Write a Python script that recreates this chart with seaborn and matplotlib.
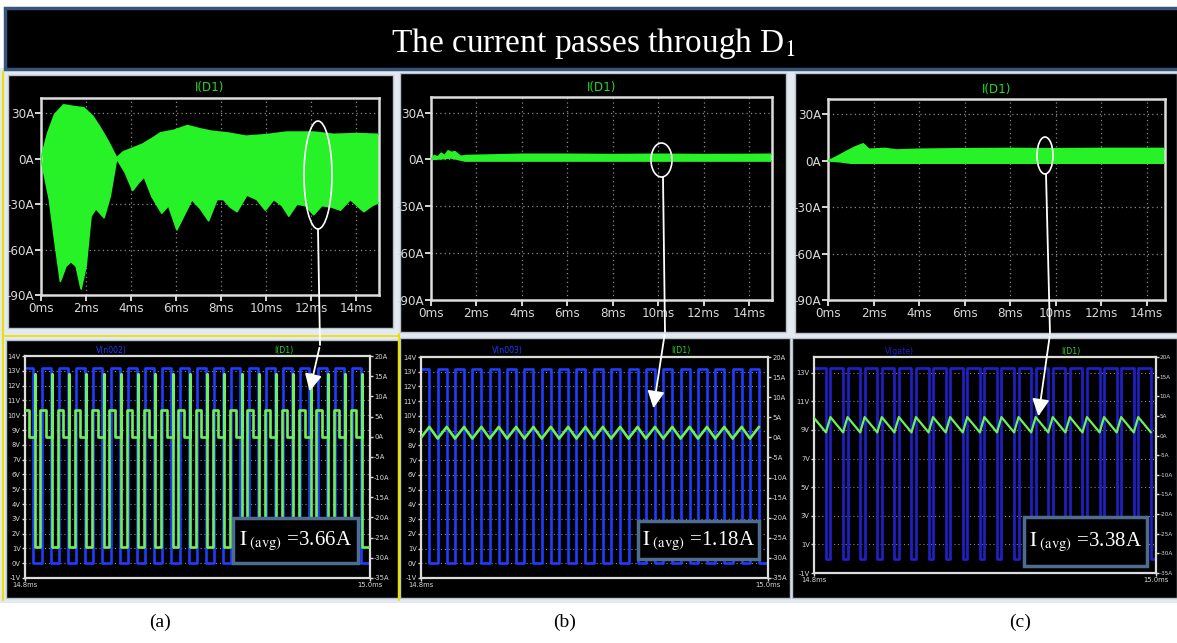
import numpy as np
import pandas as pd
import matplotlib
matplotlib.use("Agg")
import matplotlib.pyplot as plt
import seaborn as sns
from matplotlib.patches import Rectangle, Ellipse, FancyArrowPatch

# ---------------- data ----------------
title_text = "The current passes through D$_1$"
panel_labels = ["(a)", "(b)", "(c)"]
avg_values = ["3.66A", "1.18A", "3.38A"]
volt_names = ["V(n002)", "V(n003)", "V(gate)"]
trace_name = "I(D1)"

top_xticks = [0, 2, 4, 6, 8, 10, 12, 14]
top_xlabels = ["0ms", "2ms", "4ms", "6ms", "8ms", "10ms", "12ms", "14ms"]
top_yticks = [30, 0, -30, -60, -90]
top_ylabels = ["30A", "0A", "-30A", "-60A", "-90A"]

# (a) envelope of I(D1), ms / A
a_up_t = [0.0, 0.3, 0.6, 1.0, 1.4, 1.9, 2.3, 2.65, 3.0, 3.36, 3.65, 4.0, 4.5, 5.0, 5.3, 5.9, 6.5, 7.1,
          7.6, 8.25, 9.1, 10.0, 10.9, 12.1, 13.0, 14.0, 15.0]
a_up_v = [0.0, 17.0, 29.0, 35.5, 34.5, 33.5, 28.0, 20.0, 11.0, 0.5, 4.5, 6.5, 9.5, 14.0, 17.0, 18.7, 21.8,
          19.5, 18.0, 17.0, 14.8, 15.8, 17.5, 17.5, 16.0, 16.5, 16.0]
a_lo_t = [0.0, 0.37, 0.6, 0.86, 1.11, 1.33, 1.56, 1.78, 2.0, 2.22, 2.44, 2.8, 3.07, 3.36, 3.73, 4.07, 4.33,
          4.58, 4.92, 5.36, 5.66, 6.03, 6.4, 6.7, 7.07, 7.44, 7.81, 8.1, 8.4, 8.7, 9.14, 9.58, 9.96, 10.33,
          10.7, 11.0, 11.36, 11.73, 12.1, 12.47, 12.9, 13.29, 13.73, 14.33, 14.7, 15.0]
a_lo_v = [0.0, -27, -53, -81, -71, -68, -71, -86, -71, -38, -33, -39, -25, 0, -9, -21, -16, -12, -25, -36,
          -31, -47, -36, -27, -33, -41, -27, -27, -32, -35, -24, -27, -34, -27, -31, -38, -30, -31, -37,
          -31, -32, -34, -27, -35, -31, -29]
# (b)
b_up_t = [0.0, 0.15, 0.3, 0.45, 0.6, 0.75, 0.9, 1.05, 1.3, 1.6, 2.5, 4.0, 6.0, 8.0, 10.0, 12.0, 14.0, 15.0]
b_up_v = [0.0, 2.5, 1.5, 4.0, 2.5, 5.5, 4.5, 5.0, 2.0, 2.5, 2.8, 3.3, 3.3, 3.1, 3.3, 3.1, 3.2, 3.3]
b_lo_t = [0.0, 0.5, 0.9, 1.2, 1.5, 15.0]
b_lo_v = [0.0, 0.5, 1.0, 0.0, -1.0, -1.0]
# (c)
c_up_t = [0.0, 0.3, 0.8, 1.2, 1.55, 1.8, 2.5, 3.0, 4.0, 6.0, 8.0, 10.0, 12.0, 14.8]
c_up_v = [0.0, 2.0, 6.0, 9.0, 11.0, 7.5, 8.0, 7.0, 7.5, 7.8, 8.0, 7.8, 8.0, 8.0]
c_lo_t = [0.0, 0.5, 1.0, 14.8]
c_lo_v = [0.0, -0.5, -1.5, -1.5]

# bottom panels: 14.8 ms .. 15.0 ms, times in microseconds after 14.8 ms
a_rise_us = [-0.3, 9.7, 19.7, 29.7, 39.7, 49.7, 59.7, 69.7, 79.7, 89.7, 99.7, 109.7, 119.7, 129.7, 139.7,
             149.7, 159.7, 169.7, 179.7, 189.7]
a_fall_us = [4.8, 14.8, 24.8, 34.8, 44.8, 54.8, 64.8, 74.8, 84.8, 94.8, 104.8, 114.8, 124.8, 134.8, 144.8,
             154.8, 164.8, 174.8, 184.8, 194.8]
b_rise_us = [-0.4, 9.6, 19.6, 29.6, 39.6, 49.6, 59.6, 69.6, 79.6, 89.6, 99.6, 109.6, 119.6, 129.6, 139.6,
             149.6, 159.6, 169.6, 179.6, 189.6]
b_fall_us = [4.8, 14.8, 24.8, 34.8, 44.8, 54.8, 64.8, 74.8, 84.8, 94.8, 104.8, 114.8, 124.8, 134.8, 144.8,
             154.8, 164.8, 174.8, 184.8, 194.8]
c_rise_us = [-0.4, 9.6, 19.6, 29.6, 39.6, 49.6, 59.6, 69.6, 79.6, 89.6, 99.6, 109.6, 119.6, 129.6, 139.6,
             149.6, 159.6, 169.6, 179.6, 189.6]
c_fall_us = [7.0, 17.0, 27.0, 37.0, 47.0, 57.0, 67.0, 77.0, 87.0, 97.0, 107.0, 117.0, 127.0, 137.0, 147.0,
             157.0, 167.0, 177.0, 187.0, 197.0]
gate_high_v = [13.2, 13.2, 13.3]
gate_low_v = [0.0, 0.0, 0.0]

# (a) diode current levels (A) and timing (us)
a_spike_hi, a_step_hi, a_step_lo, a_spike_lo = 15.6, 6.5, 0.0, -27.4
a_lag_us, a_step_us = 0.8, 3.2
# (b), (c) triangular ripple (A)
b_peak, b_trough = 2.6, -0.3
c_peak, c_trough = 4.7, 0.8

bot_left_ticks = [list(range(-1, 15)), list(range(-1, 15)), [-1, 1, 3, 5, 7, 9, 11, 13]]
right_ticks = [20, 15, 10, 5, 0, -5, -10, -15, -20, -25, -30, -35]
bot_xlabels = ["14.8ms", "15.0ms"]

# ---------------- helpers ----------------
W, H = 1177, 643
sns.set_theme(style="dark")
plt.rcParams['font.family'] = ['DejaVu Sans']
plt.rcParams['font.stretch'] = 'condensed'
plt.rcParams['mathtext.fontset'] = 'stix'

fig = plt.figure(figsize=(W / 100, H / 100), dpi=100, facecolor='white')


def px_axes(l, t, r, b, **kw):
    return fig.add_axes([l / W, 1 - b / H, (r - l) / W, (b - t) / H], **kw)


def gate_series(rise, fall, hi, lo):
    ev = sorted([(x, hi) for x in rise] + [(x, lo) for x in fall])
    t, v, cur = [-2.0], [lo], lo
    for x, new in ev:
        t += [x, x]
        v += [cur, new]
        cur = new
    t.append(202.0)
    v.append(cur)
    return t, v


def tri_series(peak_t, trough_t, pk, tr):
    ev = sorted([(x, pk) for x in peak_t] + [(x, tr) for x in trough_t])
    return [e[0] for e in ev], [e[1] for e in ev]


def green_a_series(rise, fall):
    ev = []
    for r in rise:
        ev.append((r - a_lag_us, [a_spike_lo, a_step_hi]))
        ev.append((r + a_step_us - a_lag_us, [a_step_hi, a_step_lo]))
    for f in fall:
        ev.append((f + a_lag_us, [a_step_lo, a_spike_hi, a_spike_lo]))
    ev.sort(key=lambda e: e[0])
    t, v = [], []
    for x, vals in ev:
        for val in vals:
            t.append(x)
            v.append(val)
    t.append(202.0)
    v.append(v[-1])
    return t, v


fill_green = "#27f227"
line_green = "#6ef05a"
label_green = "#2ad62a"
blue_cols = ["#1f3cff", "#1f3cff", "#2020c8"]
frame_col = "#dcdcdc"
tick_col = "#d8d8d8"
grid_col = "#8a8a8a"
serif = ['Liberation Serif', 'DejaVu Serif']

# ---------------- background ----------------
bg = fig.add_axes([0, 0, 1, 1], zorder=0)
bg.set_xlim(0, W)
bg.set_ylim(H, 0)
bg.axis('off')
bg.add_patch(Rectangle((0, 68), W, 535, fc='#e4e9ef', ec='none'))
for (x0, y0, x1, y1) in [(8, 75, 393, 328), (400, 73, 786, 332), (795, 73, 1177, 333),
                         (6, 340, 398, 598), (400, 338, 790, 598), (792, 338, 1177, 598)]:
    bg.add_patch(Rectangle((x0, y0), x1 - x0, y1 - y0, fc='black', ec='#b9c3cf', lw=1.0))
bg.add_patch(Rectangle((0, 603), W, 40, fc='white', ec='none'))
bg.plot([3, 3], [72, 600], color='#e8e000', lw=1.5)
bg.plot([398.5, 398.5], [334, 600], color='#e8e000', lw=1.5)
bg.plot([3, 398], [336, 336], color='#e8e000', lw=1.2)
bg.add_patch(Rectangle((5, 8), W - 3, 61, fc='black', ec='#37557a', lw=2.5))
bg.text(593, 52, title_text, color='white', fontsize=24, ha='center', va='baseline', family=serif)
for x, lab in zip([160, 565, 1020], panel_labels):
    bg.text(x, 622, lab, color='black', fontsize=14, ha='center', va='center', family=serif)

# ---------------- top panels ----------------
top_boxes = [(41, 98, 379, 295), (431, 97, 772, 300), (828, 99, 1165, 300)]
top_xmax = [15.0, 15.0, 14.8]
top_env = [(a_up_t, a_up_v, a_lo_t, a_lo_v), (b_up_t, b_up_v, b_lo_t, b_lo_v),
           (c_up_t, c_up_v, c_lo_t, c_lo_v)]

for i in range(3):
    l, t, r, b = top_boxes[i]
    ax = px_axes(l, t, r, b, zorder=1)
    ax.set_facecolor('black')
    ut, uv, lt, lv = top_env[i]
    ax.fill(list(ut) + list(lt)[::-1], list(uv) + list(lv)[::-1], color=fill_green, lw=0, zorder=2)
    sns.lineplot(x=ut, y=uv, ax=ax, color=fill_green, lw=1.2, estimator=None, sort=False, zorder=3)
    sns.lineplot(x=lt, y=lv, ax=ax, color=fill_green, lw=1.2, estimator=None, sort=False, zorder=3)
    ax.set_xlim(0, top_xmax[i])
    ax.set_ylim(-90, 40)
    ax.set_xticks(top_xticks)
    ax.set_xticklabels(top_xlabels)
    ax.set_yticks(top_yticks)
    ax.set_yticklabels(top_ylabels)
    ax.set_xlabel('')
    ax.set_ylabel('')
    ax.grid(True, color=grid_col, linestyle=(0, (1, 2.5)), lw=0.9)
    ax.set_axisbelow(True)
    for s in ax.spines.values():
        s.set_color(frame_col)
        s.set_linewidth(1.8)
        s.set_visible(True)
    ax.tick_params(colors=tick_col, direction='out', length=4, width=1.4, labelsize=9.5, pad=1,
                   bottom=True, left=True)
    ax.text(0.5, 1 + 10 / (b - t), trace_name, transform=ax.transAxes, color=label_green,
            fontsize=9.5, ha='center', va='center')

# ---------------- bottom panels ----------------
bot_boxes = [(25, 356, 370, 578), (421, 357, 768, 578), (814, 357, 1156, 573)]
bot_ylims = [(-1, 14), (-1, 14), (-1, 14.1)]
rises = [a_rise_us, b_rise_us, c_rise_us]
falls = [a_fall_us, b_fall_us, c_fall_us]

for i in range(3):
    l, t, r, b = bot_boxes[i]
    ax = px_axes(l, t, r, b, zorder=1)
    ax.set_facecolor('black')
    gt, gv = gate_series(rises[i], falls[i], gate_high_v[i], gate_low_v[i])
    sns.lineplot(x=gt, y=gv, ax=ax, color=blue_cols[i], lw=1.9, estimator=None, sort=False)
    ax.set_xlim(0, 200)
    ax.set_ylim(*bot_ylims[i])
    ax.set_yticks(bot_left_ticks[i])
    ax.set_yticklabels([f"{v}V" for v in bot_left_ticks[i]])
    ax.set_xticks([0, 200])
    ax.set_xticklabels(bot_xlabels)
    ax.set_xlabel('')
    ax.set_ylabel('')
    ax.grid(True, axis='y', color=grid_col, linestyle=(0, (1, 2.5)), lw=0.8)
    ax.grid(False, axis='x')
    ax.set_axisbelow(True)
    for s in ax.spines.values():
        s.set_color(frame_col)
        s.set_linewidth(1.6)
        s.set_visible(True)
    ax.tick_params(colors=tick_col, direction='out', length=2, width=1.0, labelsize=5.4, pad=1,
                   bottom=True, left=True)

    ax2 = ax.twinx()
    ax2.set_zorder(ax.get_zorder() + 0.5)
    ax2.patch.set_visible(False)
    if i == 0:
        it, iv = green_a_series(rises[i], falls[i])
        lw = 1.9
    elif i == 1:
        it, iv = tri_series(falls[i], rises[i], b_peak, b_trough)
        lw = 1.9
    else:
        it, iv = tri_series(rises[i], falls[i], c_peak, c_trough)
        lw = 1.6
    sns.lineplot(x=it, y=iv, ax=ax2, color=line_green, lw=lw, estimator=None, sort=False)
    ax2.set_xlim(0, 200)
    ax2.set_ylim(-35, 20)
    ax2.set_yticks(right_ticks)
    ax2.set_yticklabels([f"{v}A" for v in right_ticks])
    ax2.set_ylabel('')
    ax2.grid(False)
    for s in ax2.spines.values():
        s.set_visible(False)
    ax2.tick_params(axis='y', colors=tick_col, direction='out', length=2, width=1.0,
                    labelsize=(5.4 if i < 2 else 4.6), pad=(1 if i < 2 else 0.5), right=True)
    ax.text(0.25, 1 + 6 / (b - t), volt_names[i], transform=ax.transAxes, color=blue_cols[i],
            fontsize=6.2, ha='center', va='center')
    ax.text(0.75, 1 + 6 / (b - t), trace_name, transform=ax.transAxes, color=label_green,
            fontsize=6.2, ha='center', va='center')

# ---------------- overlay: boxes, ellipses, arrows ----------------
ov = fig.add_axes([0, 0, 1, 1], zorder=10)
ov.set_xlim(0, W)
ov.set_ylim(H, 0)
ov.axis('off')
ov.patch.set_visible(False)

boxes = [(233, 518, 358, 563), (638, 521, 759, 559), (1024, 517, 1147, 566)]
for (x0, y0, x1, y1), val in zip(boxes, avg_values):
    ov.add_patch(Rectangle((x0, y0), x1 - x0, y1 - y0, fc='black', ec='#4d6c90', lw=2.5))
    ov.text((x0 + x1) / 2, (y0 + y1) / 2 + 1,
            r"$\mathrm{I}_{\ \mathrm{(avg)}}$ =" + val,
            color='white', fontsize=15, ha='center', va='center', family=serif)

ells = [(318, 175, 28, 108), (661.5, 160, 21, 34), (1045, 155.5, 16, 37)]
paths = [([318, 320], [229, 345], (320, 345), (309, 394)),
         ([663, 665], [177, 332], (665, 332), (653, 411)),
         ([1046, 1050], [174, 334], (1050, 334), (1038, 419))]
for (cx, cy, w, h), (lx, ly, p0, p1) in zip(ells, paths):
    ov.add_patch(Ellipse((cx, cy), w, h, fill=False, ec='white', lw=1.2))
    ov.plot(lx, ly, color='white', lw=1.3)
    ov.add_patch(FancyArrowPatch(p0, p1, arrowstyle='-|>', mutation_scale=26, color='white', lw=1.3))

fig.savefig("out.png", dpi=100, facecolor='white')
